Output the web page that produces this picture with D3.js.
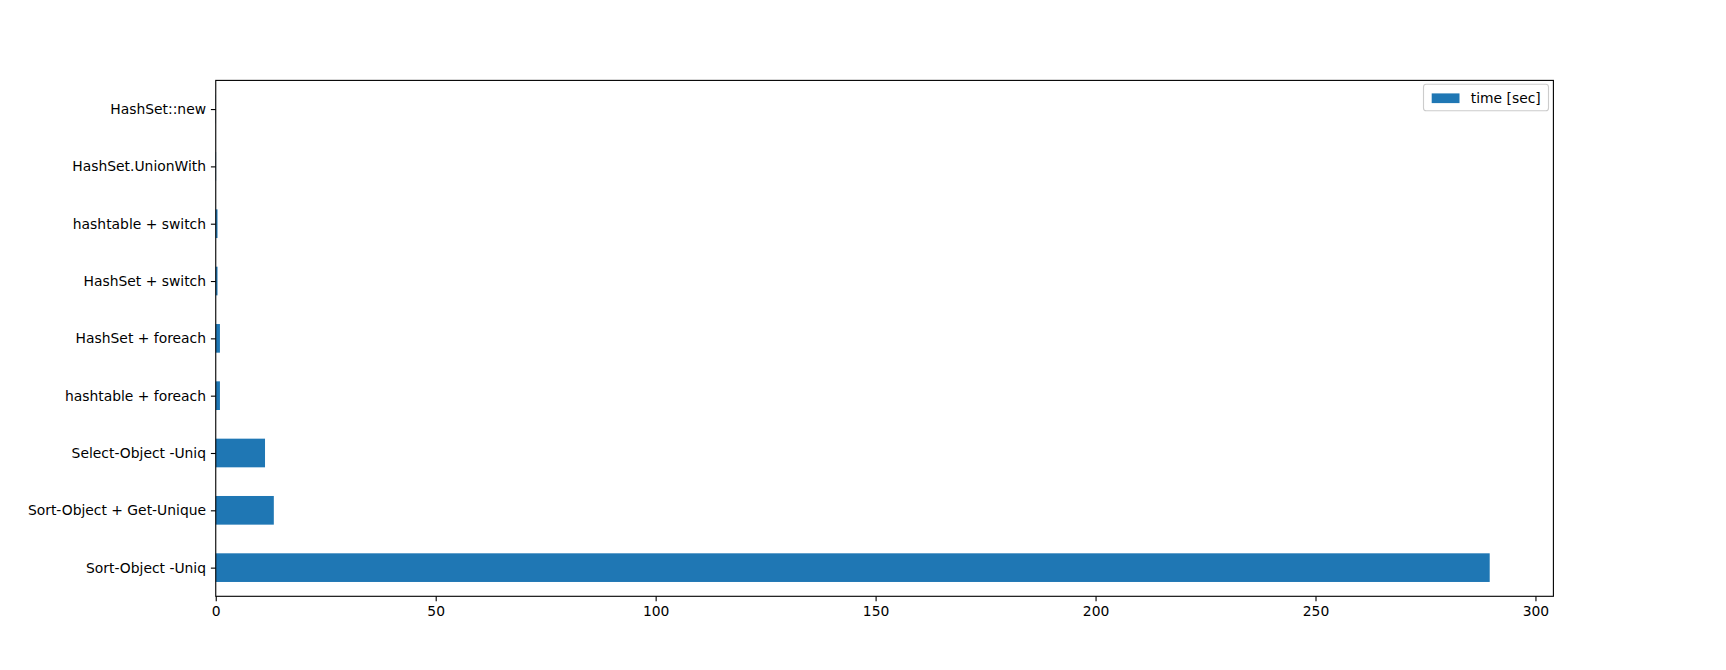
<!DOCTYPE html>
<html>
<head>
<meta charset="utf-8">
<script src="https://cdn.jsdelivr.net/npm/d3@7"></script>
<style>
  html, body { margin: 0; padding: 0; background: #fff; }
  svg { display: block; }
  text { font-family: "DejaVu Sans", sans-serif; fill: #000; }
</style>
</head>
<body>
<svg id="chart" width="1726" height="670"></svg>
<script>
// Data (top of chart first)
const categories = [
  "HashSet::new",
  "HashSet.UnionWith",
  "hashtable + switch",
  "HashSet + switch",
  "HashSet + foreach",
  "hashtable + foreach",
  "Select-Object -Uniq",
  "Sort-Object + Get-Unique",
  "Sort-Object -Uniq"
];
const timeSec = [0.05, 0.08, 0.4, 0.4, 0.95, 0.95, 11.2, 13.2, 289.6];
const xTicks = [0, 50, 100, 150, 200, 250, 300];
const seriesName = "time [sec]";
const barColor = "#1f77b4";

const W = 1726, H = 670;
const margin = { left: 215.75, right: W - 1553.4, top: 80.4, bottom: H - 596.3 };
const svg = d3.select("#chart");
const fontPx = 13.89;

const x = d3.scaleLinear()
  .domain([0, d3.max(timeSec) * 1.05])
  .range([margin.left, W - margin.right]);

// positions: category i at index (n-1-i) from bottom, ylim -0.5..n-0.5
const n = categories.length;
const y = d3.scaleLinear()
  .domain([-0.5, n - 0.5])
  .range([H - margin.bottom, margin.top]);
const barH = y(0) - y(0.5);

const data = categories.map((c, i) => ({ c, v: timeSec[i], pos: n - 1 - i }));

svg.append("g").selectAll("rect").data(data).join("rect")
  .attr("x", x(0))
  .attr("y", d => y(d.pos) - barH / 2)
  .attr("width", d => x(d.v) - x(0))
  .attr("height", barH)
  .attr("fill", barColor);

// Axes
const tickLen = 4.86, tickPad = 4.86;
const xAxis = d3.axisBottom(x).tickValues(xTicks).tickFormat(d3.format("d"))
  .tickSizeInner(tickLen).tickSizeOuter(0).tickPadding(tickPad);
const gx = svg.append("g").attr("transform", `translate(0,${H - margin.bottom})`).call(xAxis);

const yBand = d3.scalePoint().domain(categories).range([y(n - 1), y(0)]);
const yAxis = d3.axisLeft(yBand).tickSizeInner(tickLen).tickSizeOuter(0).tickPadding(tickPad);
const gy = svg.append("g").attr("transform", `translate(${margin.left},0)`).call(yAxis);

[gx, gy].forEach(g => {
  g.select(".domain").remove();
  g.selectAll(".tick line").attr("stroke", "#000").attr("stroke-width", 1.11);
  g.selectAll(".tick text").attr("font-family", "DejaVu Sans").attr("font-size", fontPx).attr("fill", "#000");
});

// Frame (spines)
svg.append("rect")
  .attr("x", margin.left).attr("y", margin.top)
  .attr("width", W - margin.right - margin.left)
  .attr("height", H - margin.bottom - margin.top)
  .attr("fill", "none").attr("stroke", "#000").attr("stroke-width", 1.11);

// Legend
const lg = svg.append("g");
const lx = 1423.5, ly = 84.2, lw = 125, lh = 26.5;
lg.append("rect").attr("x", lx).attr("y", ly).attr("width", lw).attr("height", lh)
  .attr("rx", 2.8).attr("ry", 2.8)
  .attr("fill", "#fff").attr("fill-opacity", 0.8)
  .attr("stroke", "#cccccc").attr("stroke-width", 1.11);
lg.append("rect").attr("x", 1431.7).attr("y", 93.4).attr("width", 27.8).attr("height", 9.7)
  .attr("fill", barColor);
lg.append("text").attr("x", 1470.8).attr("y", 103.2)
  .attr("font-size", fontPx).text(seriesName);
</script>
</body>
</html>
